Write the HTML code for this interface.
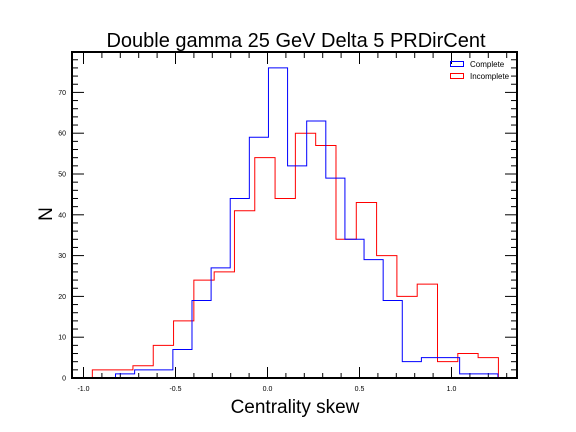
<!DOCTYPE html>
<html><head><meta charset="utf-8"><style>
body{margin:0;background:#fff;}
svg{display:block;font-family:"Liberation Sans",sans-serif;}
</style></head><body>
<svg id="chart" width="576" height="432">
<rect width="576" height="432" fill="#fff"/>
<text x="296" y="47" font-size="20" text-anchor="middle">Double gamma 25 GeV Delta 5 PRDirCent</text>
<text x="295" y="413" font-size="19" text-anchor="middle">Centrality skew</text>
<text x="52" y="214" font-size="19" text-anchor="middle" transform="rotate(-90 52 214)">N</text>
<g id="ticks"></g>
<g id="series"></g>
<rect x="72" y="52" width="445" height="326" fill="none" stroke="#000" stroke-width="2"/>
<g>
<rect x="450.5" y="61.5" width="13" height="5" fill="none" stroke="#00f" stroke-width="1"/>
<text x="470" y="67" font-size="8">Complete</text>
<rect x="450.5" y="73.5" width="13" height="5" fill="none" stroke="#f00" stroke-width="1"/>
<text x="470" y="79" font-size="8">Incomplete</text>
</g>
</svg>
<script>
const completeStart = -0.826, completeEnd = 1.252;
const completeCounts = [1,2,2,7,19,27,44,59,76,52,63,49,34,29,19,4,5,5,1,1];
const incompleteStart = -0.952, incompleteEnd = 1.255;
const incompleteCounts = [2,2,3,8,14,24,26,41,54,44,60,57,34,43,30,20,23,4,6,5];
const xTickLabels = ["-1.0","-0.5","0.0","0.5","1.0"];
const xTickValues = [-1,-0.5,0,0.5,1];
const yTickValues = [0,10,20,30,40,50,60,70];

const L=72,R=517,T=52,B=378;
const xs = v => 267.5 + v*184;
const ys = v => B - v*4.08;
const NS="http://www.w3.org/2000/svg";
function mk(tag, attrs, parent){const e=document.createElementNS(NS,tag);for(const k in attrs)e.setAttribute(k,attrs[k]);parent.appendChild(e);return e;}
const tg=document.getElementById('ticks');
// x ticks
for(let i=-10;i<=13;i++){
  const v=i/10, x=xs(v); if(x<L||x>R) continue;
  const major = i%5===0, len = major?11:5;
  const t1=mk('line',{x1:x,x2:x,y1:B,y2:B-len,stroke:'#000','stroke-width':1},tg);
  
  
  const t2=mk('line',{x1:x,x2:x,y1:T,y2:T+(major?12:6),stroke:'#000','stroke-width':1},tg);
  
  
}
xTickValues.forEach((v,i)=>{
  const t=mk('text',{x:xs(v),y:391,'font-size':7,'text-anchor':'middle'},tg);
  t.textContent=xTickLabels[i];
  
  
});
for(let v=0;v<=78;v+=2){
  const y=ys(v); if(y<T) continue;
  const major=v%10===0, len=major?12:6;
  const a=mk('line',{x1:L,x2:L+len,y1:y,y2:y,stroke:'#000','stroke-width':1},tg);
  
  
  const b=mk('line',{x1:R,x2:R-len,y1:y,y2:y,stroke:'#000','stroke-width':1},tg);
  
  
}
yTickValues.forEach(v=>{
  const t=mk('text',{x:66,y:ys(v)+2.5,'font-size':7,'text-anchor':'end'},tg);
  t.textContent=String(v);
  
  
});
function hist(counts,start,end,color,name){
  const w=(end-start)/counts.length;
  let d='M'+xs(start)+','+ys(0);
  counts.forEach((c,i)=>{
    d+=' L'+xs(start+i*w)+','+ys(c)+' L'+xs(start+(i+1)*w)+','+ys(c);
  });
  d+=' L'+xs(end)+','+ys(0);
  const p=mk('path',{d:d,fill:'none',stroke:color,'stroke-width':1},document.getElementById('series'));
  
  
}
hist(incompleteCounts,incompleteStart,incompleteEnd,'#f00','incomplete-histogram');
hist(completeCounts,completeStart,completeEnd,'#00f','complete-histogram');
</script>
</body></html>
